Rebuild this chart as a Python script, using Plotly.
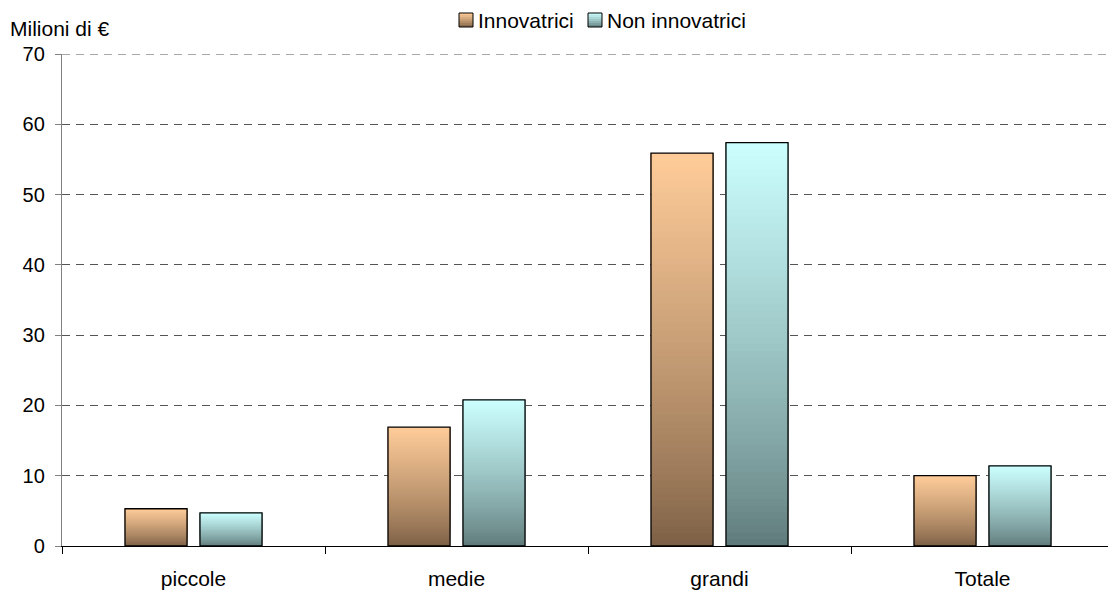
import plotly.graph_objects as go

# Values (millions of euro) by firm size
categories = ["piccole", "medie", "grandi", "Totale"]
innovatrici = [5.3, 16.9, 55.9, 10.0]
non_innovatrici = [4.7, 20.8, 57.4, 11.4]
series_names = ["Innovatrici", "Non innovatrici"]
y_ticks = [0, 10, 20, 30, 40, 50, 60, 70]

FONT = "Liberation Sans, Arial, sans-serif"
N_STEPS = 60          # gradient steps per bar
BAR_W = 0.236         # bar width in category units
OFFSETS = [-0.2605, 0.0246]

# plot area in pixels (used to place the legend and the unit label)
W, H = 1108, 593
L, R, T, B = 62, 0, 54, 47
PW, PH = W - L - R, H - T - B

GRID_COLOR = "#555555"
GRID_DASH = "8px,6px"

# top (light) and bottom (dark) colours of each series' vertical gradient
GRAD = [((255, 204, 153), (122, 94, 68)),
        ((204, 255, 255), (94, 120, 120))]


def mix(top, bottom, t):
    # t = 0 at the base of the bar, 1 at its top
    t = t ** 0.8
    return "rgb({},{},{})".format(*[round(b + (a - b) * t) for a, b in zip(top, bottom)])


def px_x(x):
    return (x - L) / PW


def px_y(y):
    return (H - B - y) / PH


fig = go.Figure()

for values, name, (top, bottom), off in zip([innovatrici, non_innovatrici],
                                            series_names, GRAD, OFFSETS):
    # gradient: each step covers from its base to the bar's top, drawn bottom-up
    for k in range(N_STEPS):
        f = k / N_STEPS
        fig.add_trace(go.Bar(
            x=categories,
            y=[v * (1 - f) for v in values],
            base=[v * f for v in values],
            width=BAR_W, offset=off,
            marker=dict(color=mix(top, bottom, (k + 0.5) / N_STEPS), line=dict(width=0)),
            showlegend=False, hoverinfo="skip",
        ))
    # outline of the full bar
    fig.add_trace(go.Bar(
        x=categories, y=values, width=BAR_W, offset=off,
        marker=dict(color="rgba(0,0,0,0)", line=dict(color="black", width=1.3)),
        name=name, showlegend=False,
    ))

# gridline at the top of the value axis (plotly skips the one on the edge)
shapes = [dict(type="line", xref="paper", yref="y", x0=0, x1=1,
               y0=y_ticks[-1], y1=y_ticks[-1],
               line=dict(color=GRID_COLOR, width=1, dash=GRID_DASH), layer="below")]
annotations = []

# legend: small gradient squares followed by the series names
legend_items = [(459, 478), (588, 607)]   # (swatch left, text left) in pixels
SW = 14
LEG_Y = 20
STRIPES = 7
for (sx, tx), name, (top, bottom) in zip(legend_items, series_names, GRAD):
    y_top = LEG_Y - SW / 2
    for s in range(STRIPES):
        shapes.append(dict(
            type="rect", xref="paper", yref="paper",
            x0=px_x(sx), x1=px_x(sx + SW),
            y0=px_y(y_top + SW * s / STRIPES), y1=px_y(y_top + SW * (s + 1) / STRIPES),
            fillcolor=mix(top, bottom, 1 - (s + 0.5) / STRIPES), line=dict(width=0),
        ))
    shapes.append(dict(
        type="rect", xref="paper", yref="paper",
        x0=px_x(sx), x1=px_x(sx + SW), y0=px_y(y_top), y1=px_y(y_top + SW),
        fillcolor="rgba(0,0,0,0)", line=dict(color="black", width=1),
    ))
    annotations.append(dict(
        text=name, xref="paper", yref="paper", x=px_x(tx - 2), y=px_y(LEG_Y + 1),
        xanchor="left", yanchor="middle", showarrow=False, font=dict(size=21),
    ))

annotations.append(dict(
    text="Milioni di €", xref="paper", yref="paper",
    x=px_x(8), y=px_y(28), xanchor="left", yanchor="middle",
    showarrow=False, font=dict(size=21),
))

fig.update_layout(
    width=W, height=H,
    margin=dict(l=L, r=R, t=T, b=B),
    barmode="overlay",
    plot_bgcolor="white", paper_bgcolor="white",
    font=dict(family=FONT, size=21, color="black"),
    showlegend=False,
    shapes=shapes,
    annotations=annotations,
)

fig.update_xaxes(
    range=[-0.5, -0.5 + PW / 263],
    showline=True, linecolor="black", linewidth=1.3,
    ticks="outside", tickson="boundaries", ticklen=7, tickcolor="black", tickwidth=1,
    ticklabelstandoff=14, tickfont=dict(size=21),
    showgrid=False, zeroline=False,
)
fig.update_yaxes(
    range=[0, 70], tickvals=y_ticks,
    showline=True, linecolor="#808080", linewidth=1.3,
    ticks="outside", ticklen=6, tickcolor="#808080",
    ticklabelstandoff=6, tickfont=dict(size=20),
    showgrid=True, gridcolor=GRID_COLOR, gridwidth=1, griddash=GRID_DASH,
    zeroline=False,
)

fig.write_html("out.html")
